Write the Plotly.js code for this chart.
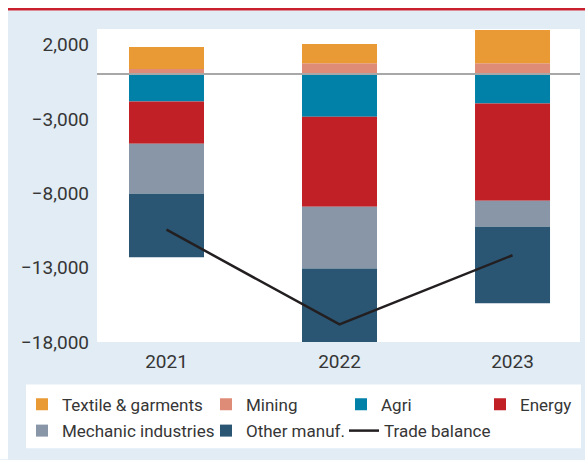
<!DOCTYPE html>
<html><head><meta charset="utf-8">
<script src="https://cdn.plot.ly/plotly-3.0.1.min.js"></script>
<style>html,body{margin:0;padding:0;background:#fff}#chart{width:585px;height:460px}</style>
</head><body><div id="chart"></div>
<script>
// ---- data ----
const years = ['2021', '2022', '2023'];
const textile = [1476, 1295, 2235];
const mining = [356, 740, 740];
const agri = [-1840, -2865, -1973];
const energy = [-2838, -6039, -6529];
const mechanic = [-3355, -4160, -1744];
const otherManuf = [-4274, -5033, -5147];
const tradeBalance = [-10450, -16820, -12170];
const yTickVals = [2000, -3000, -8000, -13000, -18000];

// ---- layout helpers ----
const W = 585, H = 460, M = {l: 97, r: 5, t: 29, b: 117.5};
const PW = W - M.l - M.r, PH = H - M.t - M.b;
const fx = px => (px - M.l) / PW;
const fy = py => (H - M.b - py) / PH;

const FONT = 'Roboto, sans-serif';
const TXT = '#363636';

function bar(name, y, color, legend, rank, lw) {
  const t = {type: 'bar', name: name, x: years, y: y,
    marker: {color: color, line: {width: 0}}, width: 0.4335,
    legend: legend, legendrank: rank, hoverinfo: 'skip'};
  if (lw) t.legendwidth = lw;
  return t;
}

const data = [
  bar('Agri', agri, '#0181A8', 'legend', 3, 94),
  bar('Energy', energy, '#C02026', 'legend', 4),
  bar('Mechanic industries', mechanic, '#8896A8', 'legend2', 1, 139),
  bar('Other manuf.', otherManuf, '#2A5674', 'legend2', 2, 93),
  bar('Mining', mining, '#DE8C78', 'legend', 2, 90),
  bar('Textile & garments', textile, '#EA9A34', 'legend', 1, 139),
  {type: 'scatter', mode: 'lines', name: 'Trade balance', x: years, y: tradeBalance,
   line: {color: '#231f20', width: 2.5}, legend: 'legend2', legendrank: 3, hoverinfo: 'skip'}
];

const legendBase = {orientation: 'h', xanchor: 'left', yanchor: 'middle',
  bgcolor: 'rgba(0,0,0,0)', borderwidth: 0, traceorder: 'normal',
  font: {family: FONT, size: 17, color: TXT}};

function rect(x0, y0, x1, y1, color) {
  return {type: 'rect', xref: 'paper', yref: 'paper', layer: 'below',
    x0: fx(x0), x1: fx(x1), y0: fy(y0), y1: fy(y1),
    fillcolor: color, line: {width: 0}};
}

const layout = {
  width: W, height: H,
  margin: {l: M.l, r: M.r, t: M.t, b: M.b, pad: 0, autoexpand: false},
  paper_bgcolor: '#E1ECF5',
  plot_bgcolor: '#FFFFFF',
  barmode: 'relative',
  font: {family: FONT, size: 19, color: TXT},
  showlegend: true,
  legend: Object.assign({}, legendBase, {x: fx(22), y: fy(405.3)}),
  legend2: Object.assign({}, legendBase, {x: fx(22), y: fy(431.7)}),
  xaxis: {type: 'category', range: [-0.4017, 2.390], showgrid: false, zeroline: false,
    showline: false, ticks: '', ticklabelstandoff: 6,
    tickfont: {family: FONT, size: 19, color: TXT}, fixedrange: true},
  yaxis: {range: [-18000, 3040], tickvals: yTickVals, tickformat: ',',
    showgrid: false, zeroline: true, zerolinecolor: '#A8A8A8', zerolinewidth: 1.5,
    zerolinelayer: 'above traces', showline: false, ticks: '', ticklabelstandoff: 7,
    tickfont: {family: FONT, size: 19, color: TXT}, fixedrange: true},
  shapes: [
    rect(0, 0, 585, 10.5, '#FFFFFF'),
    rect(0, 0, 8, 460, '#FFFFFF'),
    rect(8, 8, 585, 10.5, '#C8202F'),
    rect(26, 385, 581, 449, '#FFFFFF')
  ]
};

Plotly.newPlot('chart', data, layout, {staticPlot: true, displayModeBar: false});
</script>
</body></html>
